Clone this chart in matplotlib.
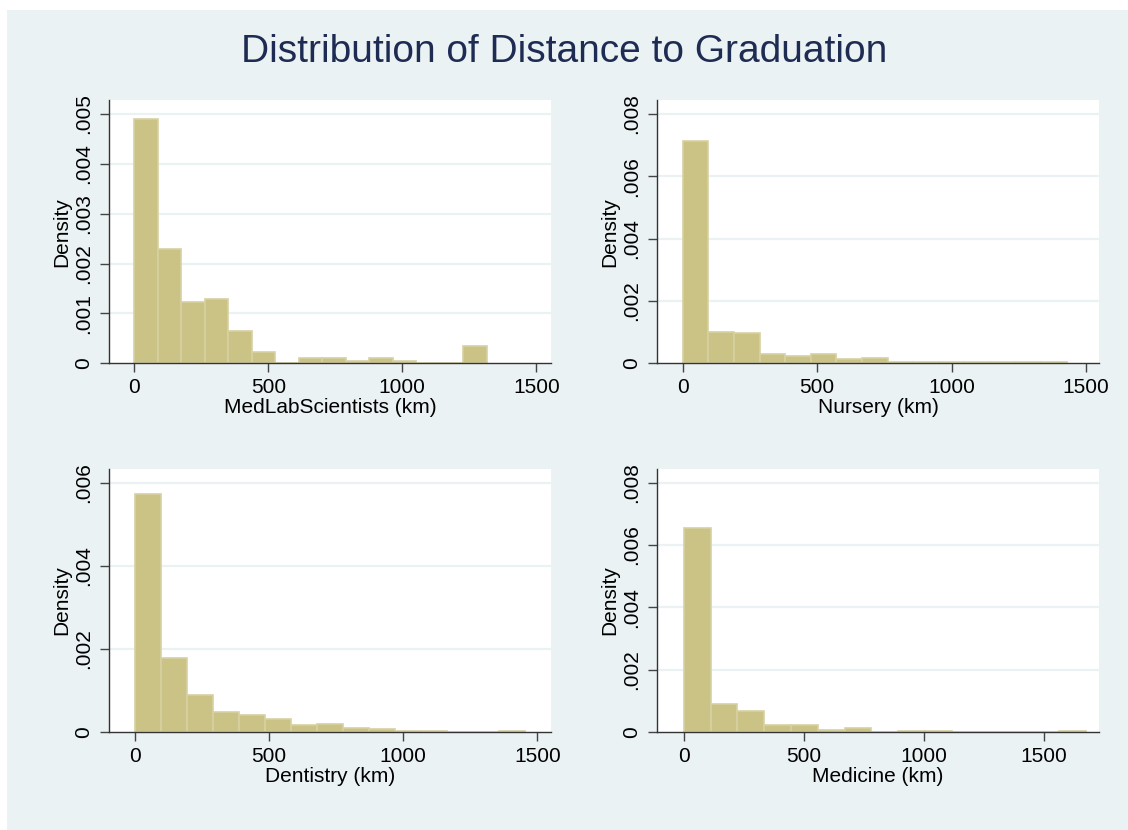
import numpy as np
import matplotlib
matplotlib.use('Agg')
import matplotlib.pyplot as plt
from matplotlib.patches import Rectangle

plt.rcParams['font.family'] = ['Liberation Sans', 'DejaVu Sans']

# histogram densities (15 equal bins from 0 to the max distance of each group)
medlab_max = 1315
medlab_dens = [0.00489, 0.00229, 0.00123, 0.00128, 0.00065, 0.00022, 0.0,
               0.000107, 0.000107, 0.000047, 0.000107, 0.000047, 0.0, 0.0, 0.00035]

nursery_max = 1428
nursery_dens = [0.00714, 0.000995, 0.00096, 0.00029, 0.000225, 0.0003, 0.00014,
                0.00017, 0.00004, 0.00003, 0.00004, 0.00003, 0.00003, 0.00004, 0.00003]

dentistry_max = 1454
dentistry_dens = [0.00572, 0.00177, 0.00089, 0.00048, 0.00041, 0.00032, 0.000176,
                  0.0002, 0.0001, 0.00007, 0.00003, 0.00003, 0.0, 0.0, 0.00003]

medicine_max = 1674
medicine_dens = [0.00656, 0.00089, 0.00066, 0.000235, 0.000214, 0.00005, 0.00012,
                 0.0, 0.00003, 0.00003, 0.0, 0.0, 0.0, 0.0, 0.00003]

xticks = [0, 500, 1000, 1500]
yticks_medlab = [0, 0.001, 0.002, 0.003, 0.004, 0.005]
yticks_nursery = [0, 0.002, 0.004, 0.006, 0.008]
yticks_dentistry = [0, 0.002, 0.004, 0.006]
yticks_medicine = [0, 0.002, 0.004, 0.006, 0.008]

W, H = 1128, 830
BG = '#EAF2F3'
BAR = '#CBC386'
BAR_EDGE = '#D7D1A2'

fig = plt.figure(figsize=(W / 100, H / 100), dpi=100)
fig.patch.set_facecolor('white')
fig.patches.append(Rectangle((7 / W, 0), 1 - 7 / W, 1 - 10 / H,
                             transform=fig.transFigure, facecolor=BG,
                             edgecolor='none', zorder=-10))


def fmt(v):
    if v == 0:
        return '0'
    return ('%.3f' % v).lstrip('0')


def panel(box, vmax, dens, yticks, xlim, ylim, label):
    l, t, r, b = box
    ax = fig.add_axes([l / W, 1 - b / H, (r - l) / W, (b - t) / H])
    ax.set_facecolor('white')
    edges = np.linspace(0, vmax, len(dens) + 1)
    ax.bar(edges[:-1], dens, width=np.diff(edges), align='edge',
           color=BAR, edgecolor=BAR_EDGE, linewidth=1.2, zorder=2)
    ax.set_xlim(*xlim)
    ax.set_ylim(*ylim)
    ax.set_xticks(xticks)
    ax.set_yticks(yticks)
    ax.set_yticklabels([fmt(v) for v in yticks], rotation=90, va='center')
    for v in yticks[1:]:
        ax.axhline(v, color=BG, lw=1.6, zorder=1)
    for s in ['top', 'right']:
        ax.spines[s].set_visible(False)
    for s in ['left', 'bottom']:
        ax.spines[s].set_color('#333333')
        ax.spines[s].set_linewidth(1.0)
    ax.tick_params(axis='both', length=6.5, width=1.0, color='#444444',
                   labelsize=15, labelcolor='black')
    ax.tick_params(axis='y', pad=5)
    ax.tick_params(axis='x', pad=4)
    ax.set_xlabel(label, fontsize=15, labelpad=1)
    ax.set_ylabel('Density', fontsize=15, labelpad=2)
    return ax


panel((109, 100, 551, 363.3), medlab_max, medlab_dens, yticks_medlab,
      (-94.4, 1555), (0, 0.00528), 'MedLabScientists (km)')
panel((656.7, 100, 1099.3, 363.3), nursery_max, nursery_dens, yticks_nursery,
      (-96.7, 1549), (0, 0.00845), 'Nursery (km)')
panel((109, 469, 551, 732), dentistry_max, dentistry_dens, yticks_dentistry,
      (-97, 1551), (0, 0.00633), 'Dentistry (km)')
panel((656.7, 469, 1099.3, 732), medicine_max, medicine_dens, yticks_medicine,
      (-112.4, 1730), (0, 0.00844), 'Medicine (km)')

fig.text(0.5, 1 - 61.7 / H, 'Distribution of Distance to Graduation',
         ha='center', va='baseline', fontsize=28, color='#1E2B52')

fig.savefig('out.png', dpi=100)
